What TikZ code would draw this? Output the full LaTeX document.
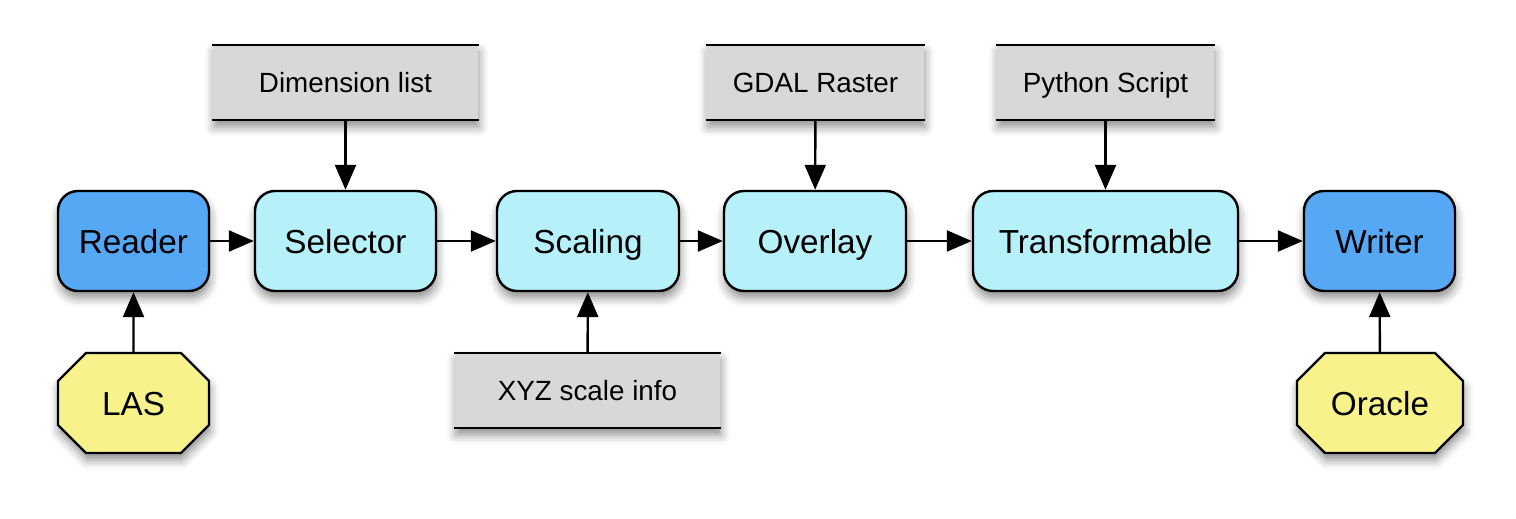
\documentclass[tikz,border=0pt]{standalone}
\usepackage{fontspec}
\setmainfont{Liberation Sans}
\usetikzlibrary{shapes.misc,shadows.blur,arrows.meta}
\definecolor{dblue}{HTML}{56A8F5}
\definecolor{lcyan}{HTML}{B6F1FA}
\definecolor{lyellow}{HTML}{F8F28A}
\definecolor{lgray}{HTML}{D8D8D8}
\begin{document}
\begin{tikzpicture}[x=1pt,y=-1pt,
  shad/.style={blur shadow={shadow xshift=1pt,shadow yshift=-7pt,shadow blur radius=9pt,shadow opacity=45}},
  proc/.style={draw=black,line width=2.4pt,rounded corners=20pt,minimum height=100pt,inner sep=0pt,
     font=\fontsize{33.3}{39}\selectfont,text height=24pt,text depth=0pt,shad},
  stage/.style={proc,fill=lcyan},
  io/.style={proc,fill=dblue},
  src/.style={draw=black,line width=2.4pt,chamfered rectangle,chamfered rectangle xsep=16pt,
     chamfered rectangle ysep=16pt,fill=lyellow,minimum height=100pt,inner sep=0pt,
     font=\fontsize{33.3}{39}\selectfont,text height=24pt,text depth=0pt,shad},
  param/.style={fill=lgray,minimum height=75pt,inner sep=0pt,font=\fontsize{27.8}{33}\selectfont,
     text height=20pt,text depth=0pt,shad},
  rule/.style={line width=2.4pt,line cap=rect},
  arr/.style={line width=2.4pt,-{Triangle[length=25pt,width=21pt]}}]
\useasboundingbox (0,0) rectangle (1516,519);
% main row
\node[io,minimum width=151pt] (reader) at (133.5,241) {Reader};
\node[stage,minimum width=181pt] (selector) at (345.5,241) {Selector};
\node[stage,minimum width=182pt] (scaling) at (588,241) {Scaling};
\node[stage,minimum width=182pt] (overlay) at (815,241) {Overlay};
\node[stage,minimum width=265pt] (transf) at (1105.5,241) {Transformable};
\node[io,minimum width=151pt] (writer) at (1379.5,241) {Writer};
% sources
\node[src,minimum width=151pt] (las) at (133.5,403) {LAS};
\node[src,minimum width=166pt] (oracle) at (1380,403) {Oracle};
% parameters
\node[param,minimum width=265pt] (dim) at (345.5,82.5) {Dimension list};
\node[param,minimum width=217pt] (gdal) at (815.5,82.5) {GDAL Raster};
\node[param,minimum width=217pt] (py) at (1105.5,82.5) {Python Script};
\node[param,minimum width=265pt] (xyz) at (587.5,390.5) {XYZ scale info};
\foreach \n in {dim,gdal,py,xyz}{
  \draw[rule] (\n.north west) -- (\n.north east);
  \draw[rule] (\n.south west) -- (\n.south east);
}
% connectors
\draw[arr] (reader) -- (selector);
\draw[arr] (selector) -- (scaling);
\draw[arr] (scaling) -- (overlay);
\draw[arr] (overlay) -- (transf);
\draw[arr] (transf) -- (writer);
\draw[arr] (dim) -- (selector);
\draw[arr] (gdal) -- (overlay);
\draw[arr] (py) -- (transf);
\draw[arr] (xyz) -- (scaling);
\draw[arr] (las) -- (reader);
\draw[arr] (oracle) -- (writer);
\end{tikzpicture}
\end{document}
